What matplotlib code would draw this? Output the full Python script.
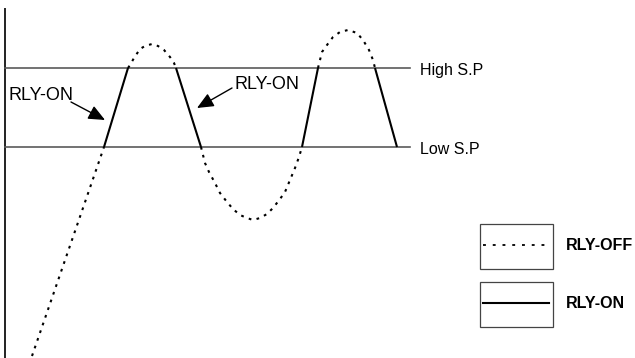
import matplotlib
matplotlib.use("Agg")
import matplotlib.pyplot as plt

# set points (y measured downward, like the drawing)
high_sp = 68
low_sp = 147
sp_x = [5, 410]
sp_labels = ["High S.P", "Low S.P"]

# dashed (relay off) parts of the process curve
rise_x = [32, 104]
rise_y = [356, 147]
peak1_x = [128, 130, 134, 140, 145, 152, 158, 164, 170, 174, 176]
peak1_y = [68, 65, 58, 49, 46, 44, 46, 50, 57, 63, 68]
trough_x = [201, 205, 209, 215, 220, 227, 233, 240, 247, 253, 260, 267, 273,
            280, 285, 290, 295, 299, 302]
trough_y = [147, 163, 172, 183, 193, 202, 209, 215, 218, 220, 218, 214, 208,
            199, 192, 180, 168, 157, 147]
peak2_x = [318, 322, 327, 333, 340, 348, 357, 363, 369, 373, 375]
peak2_y = [68, 52, 45, 37, 32, 30, 33, 40, 50, 60, 68]

# solid (relay on) segments
on_x = [(104, 128), (176, 201), (302, 318), (375, 397)]
on_y = [(147, 68), (68, 147), (147, 68), (68, 147)]

# annotations: text position, arrow tail, arrow tip
ann_text = ["RLY-ON", "RLY-ON"]
ann_pos = [(8, 100), (235, 89)]
ann_tail = [(71, 102), (232, 88)]
ann_tip = [(105, 120), (197, 108)]

legend_labels = ["RLY-OFF", "RLY-ON"]
legend_styles = ["off", "on"]

plt.rcParams["font.family"] = ["Liberation Sans", "DejaVu Sans"]

fig = plt.figure(figsize=(6.35, 3.58), dpi=100)
ax = fig.add_axes([0, 0, 1, 1])
ax.set_xlim(0, 635)
ax.set_ylim(358, 0)
ax.axis("off")

dash_kw = dict(color="black", lw=1.5, dashes=(1.3, 2.6), solid_capstyle="butt",
               dash_capstyle="butt")

# axis line
ax.plot([5, 5], [9, 358], color="#222222", lw=1.4)

# set point lines + labels
for y, lab in zip([high_sp, low_sp], sp_labels):
    ax.plot(sp_x, [y, y], color="#5a5a5a", lw=1.2)
    ax.text(420, y + 7, lab, fontsize=11.5, va="baseline", ha="left")

for xs, ys in [(rise_x, rise_y), (peak1_x, peak1_y), (trough_x, trough_y),
               (peak2_x, peak2_y)]:
    ax.plot(xs, ys, **dash_kw)

for xs, ys in zip(on_x, on_y):
    ax.plot(xs, ys, color="black", lw=1.5, solid_capstyle="butt")

for t, p, a, b in zip(ann_text, ann_pos, ann_tail, ann_tip):
    ax.text(p[0], p[1], t, fontsize=13, va="baseline", ha="left")
    ax.annotate("", xy=b, xytext=a,
                arrowprops=dict(arrowstyle="-|>,head_length=0.5,head_width=0.22",
                                mutation_scale=20, color="black", lw=1,
                                shrinkA=0, shrinkB=0))

# legend boxes
box_y = [224, 282]
for by, lab, st in zip(box_y, legend_labels, legend_styles):
    ax.add_patch(plt.Rectangle((480, by), 73, 45, fill=False,
                               edgecolor="#444444", lw=0.9))
    ly = by + 21
    if st == "off":
        ax.plot([483, 549], [ly, ly], color="black", lw=1.3, dashes=(1.6, 3.8))
    else:
        ax.plot([483, 549], [ly, ly], color="black", lw=1.5)
    ax.text(566, by + 26, lab, fontsize=11.5, fontweight="bold",
            va="baseline", ha="left")

fig.savefig("out.png", dpi=100)
